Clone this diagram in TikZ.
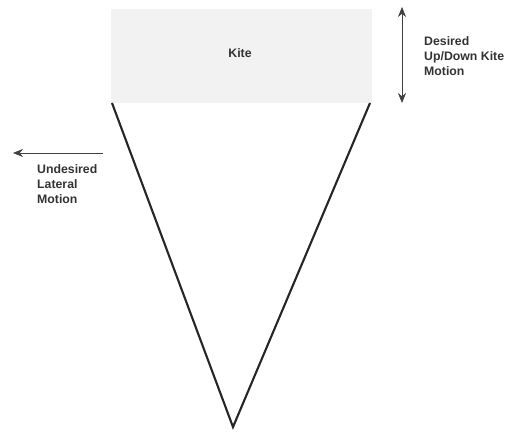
\documentclass[tikz,border=0pt]{standalone}
\usepackage{fontspec}
\setmainfont{Liberation Sans}
\usetikzlibrary{arrows.meta}

\begin{document}
\begin{tikzpicture}[x=0.02cm, y=-0.02cm, every node/.style={font=\fontsize{7}{8.6}\selectfont\bfseries, text=black!80}, >={Stealth[length=2mm, width=1.6mm]}]
	\useasboundingbox (0,0) rectangle (511,432);
	% kite area
	\node[fill=black!5, minimum width=261*0.02cm, minimum height=94*0.02cm, inner sep=0pt] (kite) at (241.5,56) {};
	\node (kitelabel) at (240,53) {Kite};
	% tether lines
	\coordinate (apex) at (233,427);
	\coordinate (tl) at (112,103);
	\coordinate (tr) at (370,103);
	\draw[line width=1.2pt, black!85] (tl) -- (apex) -- (tr);
	% desired motion
	\coordinate (uptop) at (402,7);
	\coordinate (upbot) at (402,103);
	\draw[<->, black!75] (uptop) -- (upbot);
	\node[anchor=west, align=left] (desired) at (418,56) {Desired\\Up/Down Kite\\Motion};
	% undesired motion
	\coordinate (latstart) at (103,153);
	\coordinate (latend) at (13,153);
	\draw[->, black!75] (latstart) -- (latend);
	\node[anchor=north west, align=left] (undesired) at (31,158) {Undesired\\Lateral\\Motion};
\end{tikzpicture}
\end{document}
